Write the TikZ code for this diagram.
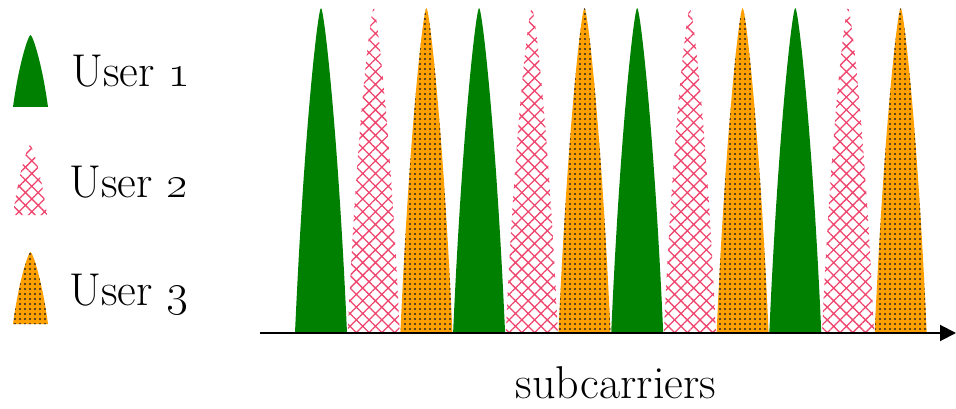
\RequirePackage{fix-cm}
\documentclass[tikz,border=0pt]{standalone}
\usetikzlibrary{arrows.meta,patterns.meta}
\definecolor{userA}{RGB}{0,128,0}
\definecolor{userB}{RGB}{238,70,110}
\definecolor{userC}{RGB}{255,160,0}
\tikzset{
  userone/.style={fill=userA},
  usertwo/.style={pattern={Hatch[angle=45,distance=9pt,line width=1.3pt]},pattern color=userB},
  userthree/.style={preaction={fill=userC},pattern={Dots[distance=5pt,radius=1.1pt]},pattern color=black!85},
  label/.style={font=\fontsize{46}{52}\selectfont,anchor=base west,inner sep=0pt}
}
\begin{document}
\begin{tikzpicture}[x=1pt,y=-1pt]
  \useasboundingbox (0,0) rectangle (956,409);
  % legend
  \fill[userone] (13,107) .. controls (19.1,62) and (28.5,35) .. (30.5,35)
                 .. controls (32.5,35) and (41.9,62) .. (48,107) -- cycle;
  \fill[usertwo] (13,215) .. controls (19,171) and (28,145) .. (30,145)
                 .. controls (32,145) and (41,171) .. (47,215) -- cycle;
  \fill[userthree] (13,324) .. controls (19.1,279) and (28.5,252) .. (30.5,252)
                 .. controls (32.5,252) and (41.9,279) .. (48,324) -- cycle;
  \node[label] (u1) at (71,87) {User \oldstylenums{1}};
  \node[label] (u2) at (69,197) {User \oldstylenums{2}};
  \node[label] (u3) at (69,305) {User \oldstylenums{3}};
  % subcarriers
  \foreach \i/\s in {0/userone,1/usertwo,2/userthree,3/userone,4/usertwo,5/userthree,
                     6/userone,7/usertwo,8/userthree,9/userone,10/usertwo,11/userthree}{
    \pgfmathsetmacro\xc{321+52.7*\i}
    \fill[\s] (\xc-26,333) .. controls (\xc-17,130) and (\xc-3,8) .. (\xc,8)
              .. controls (\xc+3,8) and (\xc+17,130) .. (\xc+26,333) -- cycle;
  }
  \coordinate (ax0) at (260,333); \coordinate (ax1) at (956,333);
  \draw[line width=2pt,-{Triangle[length=16pt,width=16pt]}] (ax0) -- (ax1);
  \node[label,anchor=base] (sc) at (616,398) {subcarriers};
\end{tikzpicture}
\end{document}
